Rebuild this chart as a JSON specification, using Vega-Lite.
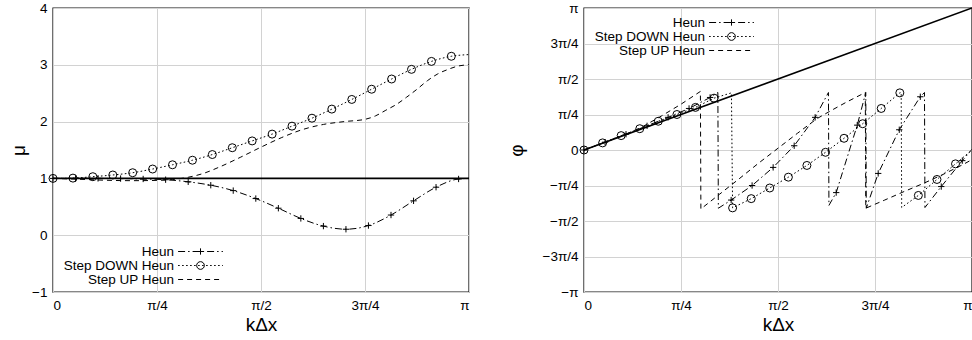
{
  "$schema": "https://vega.github.io/schema/vega-lite/v6.json",
  "background": "white",
  "padding": {"left": 8, "top": 0, "right": 0, "bottom": 0},
  "spacing": 27,
  "config": {
    "font": "Liberation Sans",
    "view": {"stroke": "#111", "strokeWidth": 1.4},
    "axis": {"grid": true, "gridColor": "#d2d2d2", "gridWidth": 1, "domain": false, "ticks": true, "tickSize": 0, "labelFontSize": 13.5, "labelColor": "#000", "labelFont": "Liberation Sans", "labelPadding": 6, "titleFontSize": 19, "titleFontWeight": "normal", "titleColor": "#000", "titleFont": "Liberation Sans", "titlePadding": 4},
    "legend": {"symbolStrokeColor": "#000", "symbolFillColor": "transparent", "symbolOpacity": 1, "symbolStrokeWidth": 1, "symbolSize": 196, "labelFontSize": 13.5, "labelFont": "Liberation Sans", "labelColor": "#000", "labelAlign": "right", "labelOffset": -34, "rowPadding": 0, "padding": 0, "labelLimit": 300}
  },
  "datasets": {
    "mu": [
      {"s": "Exact", "x": 0, "y": 1, "m": 0}, {"s": "Exact", "x": 4, "y": 1, "m": 0},
      {"s": "Heun", "x": 0, "y": 1, "m": 1}, {"s": "Heun", "x": 0.217, "y": 1, "m": 1}, {"s": "Heun", "x": 0.433, "y": 1, "m": 1}, {"s": "Heun", "x": 0.65, "y": 0.997, "m": 1}, {"s": "Heun", "x": 0.867, "y": 0.99, "m": 1}, {"s": "Heun", "x": 1.083, "y": 0.977, "m": 1}, {"s": "Heun", "x": 1.3, "y": 0.94, "m": 1}, {"s": "Heun", "x": 1.517, "y": 0.88, "m": 1}, {"s": "Heun", "x": 1.733, "y": 0.785, "m": 1}, {"s": "Heun", "x": 1.95, "y": 0.645, "m": 1}, {"s": "Heun", "x": 2.167, "y": 0.475, "m": 1}, {"s": "Heun", "x": 2.383, "y": 0.295, "m": 1}, {"s": "Heun", "x": 2.6, "y": 0.16, "m": 1}, {"s": "Heun", "x": 2.817, "y": 0.105, "m": 1}, {"s": "Heun", "x": 3.033, "y": 0.17, "m": 1}, {"s": "Heun", "x": 3.25, "y": 0.355, "m": 1}, {"s": "Heun", "x": 3.467, "y": 0.605, "m": 1}, {"s": "Heun", "x": 3.683, "y": 0.845, "m": 1}, {"s": "Heun", "x": 3.9, "y": 0.99, "m": 1}, {"s": "Heun", "x": 4.0, "y": 1.0, "m": 0},
      {"s": "Step DOWN Heun", "x": 0, "y": 1, "m": 1}, {"s": "Step DOWN Heun", "x": 0.192, "y": 1.005, "m": 1}, {"s": "Step DOWN Heun", "x": 0.383, "y": 1.03, "m": 1}, {"s": "Step DOWN Heun", "x": 0.575, "y": 1.06, "m": 1}, {"s": "Step DOWN Heun", "x": 0.766, "y": 1.1, "m": 1}, {"s": "Step DOWN Heun", "x": 0.958, "y": 1.165, "m": 1}, {"s": "Step DOWN Heun", "x": 1.149, "y": 1.24, "m": 1}, {"s": "Step DOWN Heun", "x": 1.341, "y": 1.32, "m": 1}, {"s": "Step DOWN Heun", "x": 1.532, "y": 1.42, "m": 1}, {"s": "Step DOWN Heun", "x": 1.724, "y": 1.54, "m": 1}, {"s": "Step DOWN Heun", "x": 1.915, "y": 1.66, "m": 1}, {"s": "Step DOWN Heun", "x": 2.107, "y": 1.78, "m": 1}, {"s": "Step DOWN Heun", "x": 2.298, "y": 1.92, "m": 1}, {"s": "Step DOWN Heun", "x": 2.49, "y": 2.06, "m": 1}, {"s": "Step DOWN Heun", "x": 2.681, "y": 2.22, "m": 1}, {"s": "Step DOWN Heun", "x": 2.873, "y": 2.39, "m": 1}, {"s": "Step DOWN Heun", "x": 3.064, "y": 2.57, "m": 1}, {"s": "Step DOWN Heun", "x": 3.256, "y": 2.75, "m": 1}, {"s": "Step DOWN Heun", "x": 3.447, "y": 2.92, "m": 1}, {"s": "Step DOWN Heun", "x": 3.639, "y": 3.06, "m": 1}, {"s": "Step DOWN Heun", "x": 3.83, "y": 3.15, "m": 1}, {"s": "Step DOWN Heun", "x": 4.0, "y": 3.18, "m": 0},
      {"s": "Step UP Heun", "x": 0, "y": 1, "m": 0}, {"s": "Step UP Heun", "x": 0.25, "y": 0.985, "m": 0}, {"s": "Step UP Heun", "x": 0.5, "y": 0.968, "m": 0}, {"s": "Step UP Heun", "x": 0.75, "y": 0.96, "m": 0}, {"s": "Step UP Heun", "x": 1.0, "y": 0.965, "m": 0}, {"s": "Step UP Heun", "x": 1.15, "y": 0.98, "m": 0}, {"s": "Step UP Heun", "x": 1.3, "y": 1.02, "m": 0}, {"s": "Step UP Heun", "x": 1.45, "y": 1.09, "m": 0}, {"s": "Step UP Heun", "x": 1.6, "y": 1.2, "m": 0}, {"s": "Step UP Heun", "x": 1.8, "y": 1.37, "m": 0}, {"s": "Step UP Heun", "x": 2.0, "y": 1.55, "m": 0}, {"s": "Step UP Heun", "x": 2.2, "y": 1.72, "m": 0}, {"s": "Step UP Heun", "x": 2.4, "y": 1.86, "m": 0}, {"s": "Step UP Heun", "x": 2.6, "y": 1.95, "m": 0}, {"s": "Step UP Heun", "x": 2.8, "y": 2.0, "m": 0}, {"s": "Step UP Heun", "x": 3.0, "y": 2.04, "m": 0}, {"s": "Step UP Heun", "x": 3.1, "y": 2.1, "m": 0}, {"s": "Step UP Heun", "x": 3.2, "y": 2.2, "m": 0}, {"s": "Step UP Heun", "x": 3.3, "y": 2.3, "m": 0}, {"s": "Step UP Heun", "x": 3.4, "y": 2.43, "m": 0}, {"s": "Step UP Heun", "x": 3.5, "y": 2.57, "m": 0}, {"s": "Step UP Heun", "x": 3.6, "y": 2.72, "m": 0}, {"s": "Step UP Heun", "x": 3.7, "y": 2.84, "m": 0}, {"s": "Step UP Heun", "x": 3.8, "y": 2.92, "m": 0}, {"s": "Step UP Heun", "x": 3.9, "y": 2.98, "m": 0}, {"s": "Step UP Heun", "x": 4.0, "y": 3.0, "m": 0}
    ],
    "phi": [
      {"s": "Exact", "x": 0, "y": 0, "m": 0}, {"s": "Exact", "x": 4, "y": 4, "m": 0},
      {"s": "Heun", "x": 0, "y": 0, "m": 1}, {"s": "Heun", "x": 0.217, "y": 0.22, "m": 1}, {"s": "Heun", "x": 0.433, "y": 0.445, "m": 1}, {"s": "Heun", "x": 0.65, "y": 0.68, "m": 1}, {"s": "Heun", "x": 0.867, "y": 0.92, "m": 1}, {"s": "Heun", "x": 1.083, "y": 1.17, "m": 1}, {"s": "Heun", "x": 1.3, "y": 1.48, "m": 1}, {"s": "Heun", "x": 1.38, "y": 1.62, "m": 0}, {"s": "Heun", "x": 1.385, "y": -1.64, "m": 0}, {"s": "Heun", "x": 1.517, "y": -1.41, "m": 1}, {"s": "Heun", "x": 1.733, "y": -1.0, "m": 1}, {"s": "Heun", "x": 1.95, "y": -0.49, "m": 1}, {"s": "Heun", "x": 2.167, "y": 0.12, "m": 1}, {"s": "Heun", "x": 2.383, "y": 0.92, "m": 1}, {"s": "Heun", "x": 2.52, "y": 1.62, "m": 0}, {"s": "Heun", "x": 2.525, "y": -1.56, "m": 0}, {"s": "Heun", "x": 2.6, "y": -1.2, "m": 1}, {"s": "Heun", "x": 2.817, "y": 0.7, "m": 1}, {"s": "Heun", "x": 2.905, "y": 1.62, "m": 0}, {"s": "Heun", "x": 2.91, "y": -1.64, "m": 0}, {"s": "Heun", "x": 3.033, "y": -0.66, "m": 1}, {"s": "Heun", "x": 3.25, "y": 0.57, "m": 1}, {"s": "Heun", "x": 3.467, "y": 1.5, "m": 1}, {"s": "Heun", "x": 3.51, "y": 1.62, "m": 0}, {"s": "Heun", "x": 3.515, "y": -1.62, "m": 0}, {"s": "Heun", "x": 3.683, "y": -1.03, "m": 1}, {"s": "Heun", "x": 3.9, "y": -0.3, "m": 1}, {"s": "Heun", "x": 4.0, "y": 0.02, "m": 0},
      {"s": "Step DOWN Heun", "x": 0, "y": 0, "m": 1}, {"s": "Step DOWN Heun", "x": 0.192, "y": 0.2, "m": 1}, {"s": "Step DOWN Heun", "x": 0.383, "y": 0.405, "m": 1}, {"s": "Step DOWN Heun", "x": 0.575, "y": 0.6, "m": 1}, {"s": "Step DOWN Heun", "x": 0.766, "y": 0.81, "m": 1}, {"s": "Step DOWN Heun", "x": 0.958, "y": 1.0, "m": 1}, {"s": "Step DOWN Heun", "x": 1.149, "y": 1.2, "m": 1}, {"s": "Step DOWN Heun", "x": 1.341, "y": 1.46, "m": 1}, {"s": "Step DOWN Heun", "x": 1.52, "y": 1.61, "m": 0}, {"s": "Step DOWN Heun", "x": 1.532, "y": -1.63, "m": 1}, {"s": "Step DOWN Heun", "x": 1.724, "y": -1.37, "m": 1}, {"s": "Step DOWN Heun", "x": 1.915, "y": -1.07, "m": 1}, {"s": "Step DOWN Heun", "x": 2.107, "y": -0.765, "m": 1}, {"s": "Step DOWN Heun", "x": 2.298, "y": -0.435, "m": 1}, {"s": "Step DOWN Heun", "x": 2.49, "y": -0.065, "m": 1}, {"s": "Step DOWN Heun", "x": 2.681, "y": 0.33, "m": 1}, {"s": "Step DOWN Heun", "x": 2.873, "y": 0.74, "m": 1}, {"s": "Step DOWN Heun", "x": 3.064, "y": 1.17, "m": 1}, {"s": "Step DOWN Heun", "x": 3.256, "y": 1.61, "m": 1}, {"s": "Step DOWN Heun", "x": 3.27, "y": 1.62, "m": 0}, {"s": "Step DOWN Heun", "x": 3.275, "y": -1.62, "m": 0}, {"s": "Step DOWN Heun", "x": 3.447, "y": -1.28, "m": 1}, {"s": "Step DOWN Heun", "x": 3.639, "y": -0.83, "m": 1}, {"s": "Step DOWN Heun", "x": 3.83, "y": -0.39, "m": 1}, {"s": "Step DOWN Heun", "x": 4.0, "y": 0.0, "m": 0},
      {"s": "Step UP Heun", "x": 0, "y": 0, "m": 0}, {"s": "Step UP Heun", "x": 0.2, "y": 0.2, "m": 0}, {"s": "Step UP Heun", "x": 0.4, "y": 0.41, "m": 0}, {"s": "Step UP Heun", "x": 0.6, "y": 0.65, "m": 0}, {"s": "Step UP Heun", "x": 0.8, "y": 0.96, "m": 0}, {"s": "Step UP Heun", "x": 1.0, "y": 1.29, "m": 0}, {"s": "Step UP Heun", "x": 1.2, "y": 1.65, "m": 0}, {"s": "Step UP Heun", "x": 1.205, "y": -1.66, "m": 0}, {"s": "Step UP Heun", "x": 1.4, "y": -1.24, "m": 0}, {"s": "Step UP Heun", "x": 1.6, "y": -0.81, "m": 0}, {"s": "Step UP Heun", "x": 1.8, "y": -0.37, "m": 0}, {"s": "Step UP Heun", "x": 2.0, "y": 0.05, "m": 0}, {"s": "Step UP Heun", "x": 2.2, "y": 0.47, "m": 0}, {"s": "Step UP Heun", "x": 2.4, "y": 0.88, "m": 0}, {"s": "Step UP Heun", "x": 2.54, "y": 1.1, "m": 0}, {"s": "Step UP Heun", "x": 2.7, "y": 1.34, "m": 0}, {"s": "Step UP Heun", "x": 2.9, "y": 1.62, "m": 0}, {"s": "Step UP Heun", "x": 2.905, "y": -1.64, "m": 0}, {"s": "Step UP Heun", "x": 3.1, "y": -1.41, "m": 0}, {"s": "Step UP Heun", "x": 3.3, "y": -1.17, "m": 0}, {"s": "Step UP Heun", "x": 3.5, "y": -0.94, "m": 0}, {"s": "Step UP Heun", "x": 3.7, "y": -0.69, "m": 0}, {"s": "Step UP Heun", "x": 3.9, "y": -0.42, "m": 0}, {"s": "Step UP Heun", "x": 4.0, "y": -0.27, "m": 0}
    ]
  },
  "hconcat": [
    {
      "width": 416, "height": 284,
      "data": {"name": "mu"},
      "encoding": {
        "x": {"field": "x", "type": "quantitative", "scale": {"domain": [0, 4], "nice": false}, "axis": {"values": [0, 1, 2, 3, 4], "labelExpr": "['0','π/4','π/2','3π/4','π'][datum.value]", "title": "kΔx"}},
        "y": {"field": "y", "type": "quantitative", "scale": {"domain": [-1, 4], "nice": false}, "axis": {"values": [-1, 0, 1, 2, 3, 4], "title": "μ", "titlePadding": 3}}
      },
      "layer": [
        {"transform": [{"filter": "datum.s == 'Exact'"}], "mark": {"type": "line", "color": "#000", "strokeWidth": 1.6}, "encoding": {}},
        {"transform": [{"filter": "datum.s != 'Exact'"}], "mark": {"type": "line", "color": "#000", "strokeWidth": 1, "interpolate": "monotone"}, "encoding": {"strokeDash": {"field": "s", "type": "nominal", "scale": {"domain": ["Heun", "Step DOWN Heun", "Step UP Heun"], "range": [[7, 3, 1.5, 3], [1.6, 2.4], [5, 4]]}, "legend": null}}},
        {"transform": [{"filter": "datum.m == 1"}], "mark": {"type": "point", "filled": false, "color": "#000", "strokeWidth": 1, "opacity": 1}, "encoding": {"shape": {"field": "s", "type": "nominal", "scale": {"domain": ["Heun", "Step DOWN Heun"], "range": ["M-1,0H1M0,-1V1", "circle"]}, "legend": null}, "size": {"field": "s", "type": "nominal", "scale": {"domain": ["Heun", "Step DOWN Heun"], "range": [40, 64]}, "legend": null}}},
        {"transform": [{"filter": "datum.s != 'Exact'"}], "mark": {"type": "point", "filled": false, "color": "#000"}, "encoding": {"opacity": {"value": 0},
          "shape": {"field": "s", "type": "nominal", "scale": {"domain": ["Heun", "Step DOWN Heun", "Step UP Heun"], "range": ["M-3.2,0H3.2M-0.45,0H0.45M0,-0.45V0.45", "M-3.2,0H3.2M0.55,0L0.508,0.21M0.508,0.21L0.389,0.389M0.389,0.389L0.21,0.508M0.21,0.508L0,0.55M0,0.55L-0.21,0.508M-0.21,0.508L-0.389,0.389M-0.389,0.389L-0.508,0.21M-0.508,0.21L-0.55,0M-0.55,0L-0.508,-0.21M-0.508,-0.21L-0.389,-0.389M-0.389,-0.389L-0.21,-0.508M-0.21,-0.508L0,-0.55M0,-0.55L0.21,-0.508M0.21,-0.508L0.389,-0.389M0.389,-0.389L0.508,-0.21M0.508,-0.21L0.55,0", "M-3.2,0H3.2"]}, "legend": {"title": null, "orient": "none", "legendX": 140, "legendY": 236}},
          "strokeDash": {"field": "s", "type": "nominal", "scale": {"domain": ["Heun", "Step DOWN Heun", "Step UP Heun"], "range": [[7, 3, 1.5, 3], [1.6, 2.4], [5, 4]]}, "legend": {"title": null, "orient": "none", "legendX": 140, "legendY": 236}}}}
      ],
      "resolve": {"scale": {"shape": "independent", "strokeDash": "independent", "size": "independent"}}
    },
    {
      "width": 388, "height": 284,
      "data": {"name": "phi"},
      "encoding": {
        "x": {"field": "x", "type": "quantitative", "scale": {"domain": [0, 4], "nice": false}, "axis": {"values": [0, 1, 2, 3, 4], "labelExpr": "['0','π/4','π/2','3π/4','π'][datum.value]", "title": "kΔx", "labelFlush": true}},
        "y": {"field": "y", "type": "quantitative", "scale": {"domain": [-4, 4], "nice": false}, "axis": {"values": [-4, -3, -2, -1, 0, 1, 2, 3, 4], "labelExpr": "['−π','−3π/4','−π/2','−π/4','0','π/4','π/2','3π/4','π'][datum.value + 4]", "title": "φ", "titlePadding": 16}}
      },
      "layer": [
        {"transform": [{"filter": "datum.s == 'Exact'"}], "mark": {"type": "line", "color": "#000", "strokeWidth": 1.6}, "encoding": {}},
        {"transform": [{"filter": "datum.s != 'Exact'"}], "mark": {"type": "line", "color": "#000", "strokeWidth": 1}, "encoding": {"strokeDash": {"field": "s", "type": "nominal", "scale": {"domain": ["Heun", "Step DOWN Heun", "Step UP Heun"], "range": [[7, 3, 1.5, 3], [1.6, 2.4], [5, 4]]}, "legend": null}}},
        {"transform": [{"filter": "datum.m == 1"}], "mark": {"type": "point", "filled": false, "color": "#000", "strokeWidth": 1, "opacity": 1}, "encoding": {"shape": {"field": "s", "type": "nominal", "scale": {"domain": ["Heun", "Step DOWN Heun"], "range": ["M-1,0H1M0,-1V1", "circle"]}, "legend": null}, "size": {"field": "s", "type": "nominal", "scale": {"domain": ["Heun", "Step DOWN Heun"], "range": [40, 64]}, "legend": null}}},
        {"transform": [{"filter": "datum.s != 'Exact'"}], "mark": {"type": "point", "filled": false, "color": "#000"}, "encoding": {"opacity": {"value": 0},
          "shape": {"field": "s", "type": "nominal", "scale": {"domain": ["Heun", "Step DOWN Heun", "Step UP Heun"], "range": ["M-3.2,0H3.2M-0.45,0H0.45M0,-0.45V0.45", "M-3.2,0H3.2M0.55,0L0.508,0.21M0.508,0.21L0.389,0.389M0.389,0.389L0.21,0.508M0.21,0.508L0,0.55M0,0.55L-0.21,0.508M-0.21,0.508L-0.389,0.389M-0.389,0.389L-0.508,0.21M-0.508,0.21L-0.55,0M-0.55,0L-0.508,-0.21M-0.508,-0.21L-0.389,-0.389M-0.389,-0.389L-0.21,-0.508M-0.21,-0.508L0,-0.55M0,-0.55L0.21,-0.508M0.21,-0.508L0.389,-0.389M0.389,-0.389L0.508,-0.21M0.508,-0.21L0.55,0", "M-3.2,0H3.2"]}, "legend": {"title": null, "orient": "none", "legendX": 140, "legendY": 7}},
          "strokeDash": {"field": "s", "type": "nominal", "scale": {"domain": ["Heun", "Step DOWN Heun", "Step UP Heun"], "range": [[7, 3, 1.5, 3], [1.6, 2.4], [5, 4]]}, "legend": {"title": null, "orient": "none", "legendX": 140, "legendY": 7}}}}
      ],
      "resolve": {"scale": {"shape": "independent", "strokeDash": "independent", "size": "independent"}}
    }
  ]
}
